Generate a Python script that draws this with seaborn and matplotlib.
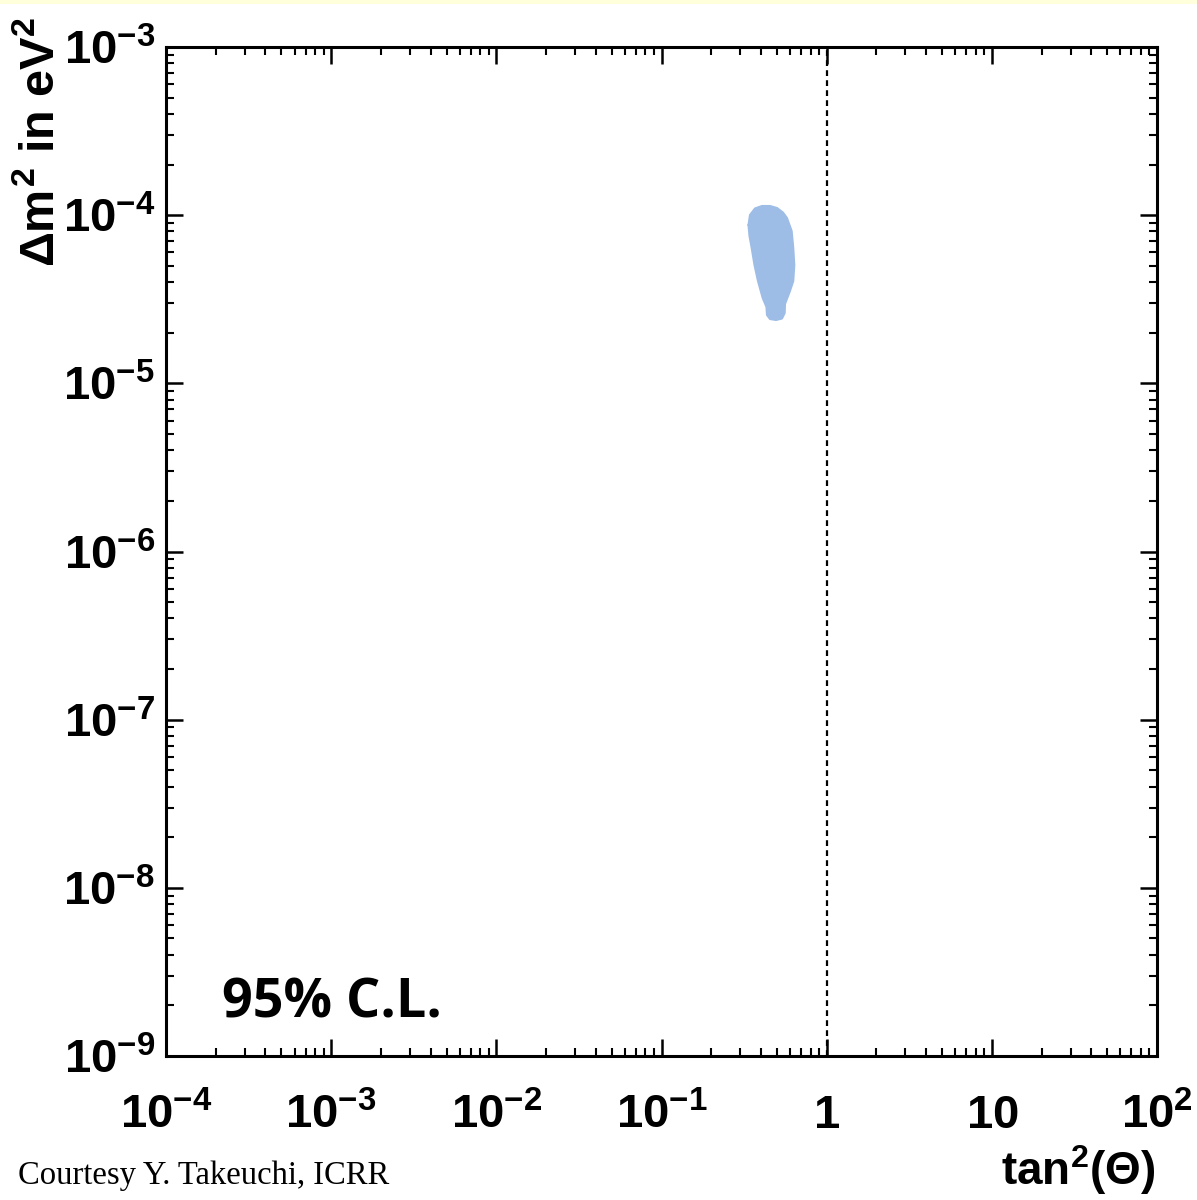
import numpy as np
import pandas as pd
import seaborn as sns
import matplotlib
matplotlib.use("Agg")
import matplotlib.pyplot as plt
from matplotlib.ticker import LogLocator, NullFormatter
from matplotlib.transforms import blended_transform_factory, ScaledTranslation
from matplotlib.patches import Rectangle

# Allowed region (95% C.L.) outline in (tan^2 theta, delta m^2)
contour_tan2 = [0.3363, 0.3433, 0.3681, 0.4060, 0.4537, 0.5004, 0.5437, 0.5749, 0.6138,
                0.6277, 0.6368, 0.6277, 0.5994, 0.5728, 0.5594, 0.5569, 0.5364, 0.4935,
                0.4537, 0.4352, 0.4321, 0.4099, 0.3838, 0.3656, 0.3516, 0.3410]
contour_dm2 = [8.74e-5, 1.002e-4, 1.096e-4, 1.134e-4, 1.134e-4, 1.103e-4, 1.037e-4, 9.62e-5,
               8.05e-5, 6.38e-5, 5.055e-5, 4.06e-5, 3.54e-5, 3.15e-5, 2.963e-5, 2.62e-5,
               2.429e-5, 2.38e-5, 2.413e-5, 2.548e-5, 2.843e-5, 3.218e-5, 4.06e-5, 5.055e-5,
               6.38e-5, 7.517e-5]

x_ticks = [1e-4, 1e-3, 1e-2, 1e-1, 1, 10, 1e2]
x_labels = [r"$10^{-4}$", r"$10^{-3}$", r"$10^{-2}$", r"$10^{-1}$", r"$1$", r"$10$", r"$10^{2}$"]
y_ticks = [1e-9, 1e-8, 1e-7, 1e-6, 1e-5, 1e-4, 1e-3]
y_labels = [r"$10^{-9}$", r"$10^{-8}$", r"$10^{-7}$", r"$10^{-6}$", r"$10^{-5}$", r"$10^{-4}$", r"$10^{-3}$"]
maximal_mixing = 1.0

sns.set_theme(style="white")
plt.rcParams["font.family"] = ["Liberation Sans", "DejaVu Sans"]
plt.rcParams["mathtext.fontset"] = "custom"
plt.rcParams["mathtext.rm"] = "Liberation Sans:bold"
plt.rcParams["mathtext.it"] = "Liberation Sans:bold"
plt.rcParams["mathtext.bf"] = "Liberation Sans:bold"

fig = plt.figure(figsize=(11.97, 12.0), dpi=100)
fig.patch.set_facecolor("white")
fig.patches.append(Rectangle((0, 1 - 4 / 1200), 1, 4 / 1200, transform=fig.transFigure,
                             facecolor="#ffffdc", edgecolor="none", zorder=0))

ax = fig.add_axes([166 / 1197, 1 - 1056 / 1200, (1157 - 166) / 1197, (1056 - 47) / 1200])
ax.set_xscale("log")
ax.set_yscale("log")
ax.set_xlim(1e-4, 1e2)
ax.set_ylim(1e-9, 1e-3)

region = pd.DataFrame({"tan2": contour_tan2, "dm2": contour_dm2})
ax.fill(region["tan2"], region["dm2"], color="#9dbde6", lw=0, zorder=2)
sns.lineplot(data=pd.concat([region, region.iloc[:1]]), x="tan2", y="dm2", sort=False,
             estimator=None, color="#9dbde6", lw=1.5, ax=ax, zorder=2,
             solid_joinstyle="round")

ax.axvline(maximal_mixing, color="black", lw=1.6, linestyle=(0, (2.6, 1.9)), zorder=3)

for s in ax.spines.values():
    s.set_linewidth(2.2)
    s.set_color("black")

for axis in (ax.xaxis, ax.yaxis):
    axis.set_major_locator(LogLocator(base=10, numticks=20))
    axis.set_minor_locator(LogLocator(base=10, subs=np.arange(2, 10), numticks=20))
    axis.set_major_formatter(NullFormatter())
    axis.set_minor_formatter(NullFormatter())
ax.tick_params(which="both", direction="in", top=True, right=True, bottom=True, left=True,
               color="black")
ax.tick_params(which="major", length=12, width=1.8)
ax.tick_params(which="minor", length=6, width=1.5)
ax.set_xlabel("")
ax.set_ylabel("")

# Tick labels placed by baseline so "1" and "10" line up with "10^n"
xt = blended_transform_factory(ax.transData, ax.transAxes)
for v, lab in zip(x_ticks, x_labels):
    ax.text(v, 0, lab, transform=xt + ScaledTranslation(0, -0.72, fig.dpi_scale_trans),
            ha="center", va="baseline", fontsize=34, color="black", clip_on=False)
yt = blended_transform_factory(ax.transAxes, ax.transData)
for v, lab in zip(y_ticks, y_labels):
    ax.text(0, v, lab, transform=yt + ScaledTranslation(-0.11, -0.175, fig.dpi_scale_trans),
            ha="right", va="baseline", fontsize=34, color="black", clip_on=False)

fig.text(0.034, 1 - 142 / 1200, r"$\Delta m^{2}$ in eV$^{2}$", rotation=90, ha="center",
         va="center", fontsize=35, fontweight="bold", color="black")
fig.text(1155 / 1197, 1 - 1185 / 1200, r"tan$^{2}$($\Theta$)", ha="right", va="baseline",
         fontsize=33, fontweight="bold", color="black")

fig.text(222 / 1197, 1 - 1018 / 1200, "95% C.L.", ha="left", va="baseline",
         fontsize=38.8, fontweight="bold", family=["Open Sans", "DejaVu Sans"], color="black")
fig.text(18 / 1197, 1 - 1184 / 1200, "Courtesy Y. Takeuchi, ICRR", ha="left", va="baseline",
         fontsize=23.5, family=["Liberation Serif", "DejaVu Serif"], color="black")

fig.savefig("out.png", dpi=100, facecolor="white")
